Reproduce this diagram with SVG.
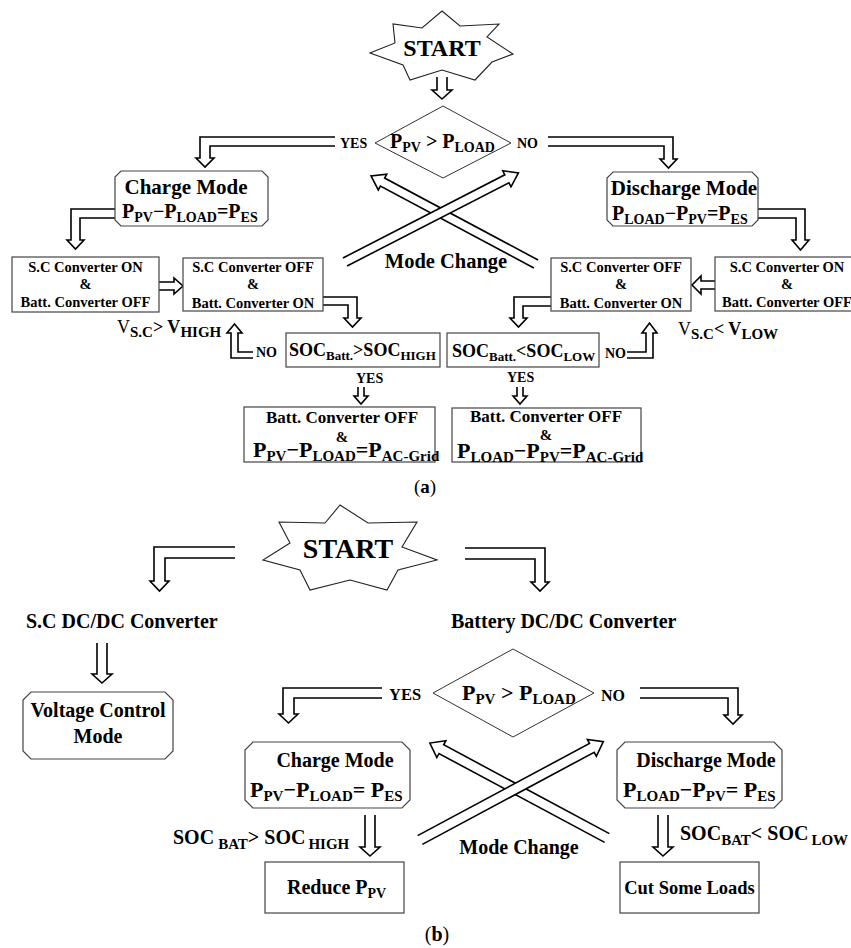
<svg xmlns="http://www.w3.org/2000/svg" width="851" height="948" viewBox="0 0 851 948">
<style>
.t{font-family:"Liberation Serif","Times New Roman",serif;font-weight:bold;fill:#000}
.r{font-weight:normal}
.bx{fill:#fff;stroke:#444;stroke-width:1.2}
.dm{fill:#fff;stroke:#333;stroke-width:1}
.ar{fill:#fff;stroke:#000;stroke-width:1.6;stroke-linejoin:miter}
.st{fill:#fff;stroke:#222;stroke-width:1.1}
</style>
<rect width="851" height="948" fill="#fff"/>

<!-- ===== (a) ===== -->
<g id="connectors-a">
  <path class="ar" d="M437,77 V90 H432 L442,99 L452,90 H447 V77"/>
  <path class="ar" d="M335,137 H200 V158 H196 L205,167 L214,158 H210 V146 H335"/>
  <path class="ar" d="M548,137 H673 V159 H677 L668.5,168 L660,159 H664 V146 H548"/>
  <path class="ar" d="M115,209 H71 V240 H67 L75.5,249 L84,240 H80 V218 H115"/>
  <path class="ar" d="M159,282 H174 V278 L183,286 L174,294 V290 H159"/>
  <path class="ar" d="M323,297 H357 V318 H361 L352.5,327 L344,318 H348 V305 H323"/>
  <path class="ar" d="M253,352 H238 V333 H242 L234.5,324 L227,333 H231 V358 H253"/>
  <path class="ar" d="M358,387 V396 H354 L361,404 L368,396 H364 V387"/>
  <path class="ar" d="M758,209 H805 V240 H809 L800.5,250 L792,240 H796 V218 H758"/>
  <path class="ar" d="M715,281 H701 V276 L692,285 L701,294 V289 H715"/>
  <path class="ar" d="M551,297 H514 V318 H510 L518.5,327 L527,318 H523 V306 H551"/>
  <path class="ar" d="M627,352 H646 V333 H642 L649.5,323 L657,333 H653 V358 H627"/>
  <path class="ar" d="M517,387 V396 H513 L520,404 L527,396 H523 V387"/>
  <path class="ar" transform="translate(536,264) rotate(-151.9)" d="M0,-4.5 H174 V-9 L187,0 L174,9 V4.5 H0"/>
  <path class="ar" transform="translate(345,262) rotate(-27.2)" d="M0,-4.5 H182 V-9 L195,0 L182,9 V4.5 H0"/>
</g>

<g id="start-a">
  <polygon class="st" points="442,11 460,26 499,24 487,37 513,54 492,62 475,80 442,70 410,80 403,65 370,53 395,43 393,24 422,28"/>
  <text class="t" x="442" y="56" font-size="24" text-anchor="middle">START</text>
</g>

<g id="decision-a">
  <polygon class="dm" points="375,143 443,106 511,143 443,178"/>
  <text class="t" x="390" y="148" font-size="20">P<tspan font-size="14" dy="4">PV</tspan><tspan dy="-4"> &gt; P</tspan><tspan font-size="14" dy="4">LOAD</tspan></text>
  <text class="t" x="340" y="148" font-size="14">YES</text>
  <text class="t" x="517" y="148" font-size="14">NO</text>
</g>

<g id="charge-a">
  <polygon class="bx" points="121,171 262,171 268,177 268,220 262,226 121,226 115,220 115,177"/>
  <text class="t" x="186" y="194" font-size="21" text-anchor="middle">Charge Mode</text>
  <text class="t" x="122" y="218" font-size="20">P<tspan font-size="14" dy="4">PV</tspan><tspan dy="-4">−P</tspan><tspan font-size="14" dy="4">LOAD</tspan><tspan dy="-4">=P</tspan><tspan font-size="14" dy="4">ES</tspan></text>
</g>

<g id="discharge-a">
  <polygon class="bx" points="613,172 752,172 758,178 758,220 752,226 613,226 607,220 607,178"/>
  <text class="t" x="684" y="195" font-size="21" text-anchor="middle">Discharge Mode</text>
  <text class="t" x="612" y="220" font-size="20">P<tspan font-size="14" dy="4">LOAD</tspan><tspan dy="-4">−P</tspan><tspan font-size="14" dy="4">PV</tspan><tspan dy="-4">=P</tspan><tspan font-size="14" dy="4">ES</tspan></text>
</g>

<g id="sc-on-left">
  <rect class="bx" x="12" y="257" width="147" height="55"/>
  <text class="t" font-size="14.5" text-anchor="middle"><tspan x="85.5" y="272">S.C Converter ON</tspan><tspan x="85.5" y="289">&amp;</tspan><tspan x="85.5" y="307">Batt. Converter OFF</tspan></text>
</g>

<g id="sc-off-left">
  <rect class="bx" x="183" y="258" width="140" height="53"/>
  <text class="t" font-size="14.5" text-anchor="middle"><tspan x="253" y="272">S.C Converter OFF</tspan><tspan x="253" y="289">&amp;</tspan><tspan x="253" y="308">Batt. Converter ON</tspan></text>
</g>

<g id="vsc-high">
  <text class="t" x="117" y="333" font-size="18"><tspan class="r">V</tspan><tspan font-size="15" dy="4">S.C</tspan><tspan dy="-4">&gt; V</tspan><tspan font-size="15" dy="4">HIGH</tspan></text>
</g>

<g id="soc-high">
  <rect class="bx" x="286" y="333" width="154" height="34"/>
  <text class="t" x="289" y="356" font-size="18">SOC<tspan font-size="13" dy="4">Batt.</tspan><tspan dy="-4">&gt;SOC</tspan><tspan font-size="13" dy="4">HIGH</tspan></text>
  <text class="t" x="256" y="357" font-size="14">NO</text>
  <text class="t" x="356" y="383" font-size="14">YES</text>
</g>

<g id="batt-off-left">
  <rect class="bx" x="244" y="407" width="191" height="55"/>
  <text class="t" x="342" y="423" font-size="17" text-anchor="middle">Batt. Converter OFF</text>
  <text class="t" x="342" y="442" font-size="15" text-anchor="middle">&amp;</text>
  <text class="t" x="253" y="457" font-size="22">P<tspan font-size="15" dy="4">PV</tspan><tspan dy="-4">−P</tspan><tspan font-size="15" dy="4">LOAD</tspan><tspan dy="-4">=P</tspan><tspan font-size="15" dy="4">AC-Grid</tspan></text>
</g>

<g id="sc-off-right">
  <rect class="bx" x="551" y="258" width="140" height="53"/>
  <text class="t" font-size="14.5" text-anchor="middle"><tspan x="621" y="272">S.C Converter OFF</tspan><tspan x="621" y="289">&amp;</tspan><tspan x="621" y="308">Batt. Converter ON</tspan></text>
</g>

<g id="sc-on-right">
  <rect class="bx" x="715" y="257" width="150" height="54"/>
  <text class="t" font-size="14.5" text-anchor="middle"><tspan x="787" y="272">S.C Converter ON</tspan><tspan x="787" y="289">&amp;</tspan><tspan x="787" y="307">Batt. Converter OFF</tspan></text>
</g>

<g id="vsc-low">
  <text class="t" x="678" y="335" font-size="18"><tspan class="r">V</tspan><tspan font-size="15" dy="4">S.C</tspan><tspan dy="-4">&lt; V</tspan><tspan font-size="15" dy="4">LOW</tspan></text>
</g>

<g id="soc-low">
  <rect class="bx" x="447" y="333" width="152" height="34"/>
  <text class="t" x="452" y="357" font-size="18">SOC<tspan font-size="13" dy="4">Batt.</tspan><tspan dy="-4">&lt;SOC</tspan><tspan font-size="13" dy="4">LOW</tspan></text>
  <text class="t" x="605" y="358" font-size="14">NO</text>
  <text class="t" x="507" y="382" font-size="14">YES</text>
</g>

<g id="batt-off-right">
  <rect class="bx" x="452" y="408" width="189" height="54"/>
  <text class="t" x="546" y="422" font-size="17" text-anchor="middle">Batt. Converter OFF</text>
  <text class="t" x="546" y="440" font-size="15" text-anchor="middle">&amp;</text>
  <text class="t" x="457" y="458" font-size="22">P<tspan font-size="15" dy="4">LOAD</tspan><tspan dy="-4">−P</tspan><tspan font-size="15" dy="4">PV</tspan><tspan dy="-4">=P</tspan><tspan font-size="15" dy="4">AC-Grid</tspan></text>
</g>

<g id="mode-change-a">
  <text class="t" x="446" y="268" font-size="20.5" text-anchor="middle">Mode Change</text>
</g>

<text class="t r" x="425" y="493" font-size="19" text-anchor="middle">(<tspan font-weight="bold">a</tspan>)</text>

<!-- ===== (b) ===== -->
<g id="connectors-b">
  <path class="ar" d="M235,547 H154 V581 H150 L159.5,591 L169,581 H165 V558 H235"/>
  <path class="ar" d="M465,548 H545 V582 H549 L540,591 L531,582 H535 V559 H465"/>
  <path class="ar" d="M97,643 V674 H92 L102,683 L112,674 H107 V643"/>
  <path class="ar" d="M382,688 H283 V714 H279 L288.5,723 L298,714 H294 V698 H382"/>
  <path class="ar" d="M640,688 H738 V715 H742 L733,724 L724,715 H728 V698 H640"/>
  <path class="ar" d="M365,815 V847 H360 L370,856 L380,847 H375 V815"/>
  <path class="ar" d="M658,815 V847 H653 L663,856 L673,847 H668 V815"/>
  <path class="ar" transform="translate(607,838) rotate(-151.8)" d="M0,-5 H188 V-9.5 L201,0 L188,9.5 V5 H0"/>
  <path class="ar" transform="translate(420,840) rotate(-28.2)" d="M0,-5 H195 V-9.5 L208,0 L195,9.5 V5 H0"/>
</g>

<g id="start-b">
  <polygon class="st" points="340,505 368,523 417,522 402,547 437,560 398,570 387,590 350,580 310,590 300,570 263,560 290,543 279,522 325,523"/>
  <text class="t" x="348" y="558" font-size="28" text-anchor="middle">START</text>
</g>

<g id="sc-converter-b">
  <text class="t" x="26" y="628" font-size="20">S.C DC/DC Converter</text>
</g>

<g id="battery-converter-b">
  <text class="t" x="451" y="628" font-size="20">Battery DC/DC Converter</text>
</g>

<g id="voltage-control-b">
  <polygon class="bx" points="31,692 165,692 173,700 173,751 165,759 31,759 23,751 23,700"/>
  <text class="t" font-size="20" text-anchor="middle"><tspan x="98" y="717">Voltage Control</tspan><tspan x="98" y="743">Mode</tspan></text>
</g>

<g id="decision-b">
  <polygon class="dm" points="433,693 513,649 594,693 513,737"/>
  <text class="t" x="462" y="700" font-size="22">P<tspan font-size="15" dy="4">PV</tspan><tspan dy="-4"> &gt; P</tspan><tspan font-size="15" dy="4">LOAD</tspan></text>
  <text class="t" x="389" y="700" font-size="16.5">YES</text>
  <text class="t" x="601" y="701" font-size="16">NO</text>
</g>

<g id="charge-b">
  <polygon class="bx" points="253,742 402,742 410,750 410,800 402,808 253,808 245,800 245,750"/>
  <text class="t" x="335" y="767" font-size="20" text-anchor="middle">Charge Mode</text>
  <text class="t" x="250" y="797" font-size="22">P<tspan font-size="15" dy="4">PV</tspan><tspan dy="-4">−P</tspan><tspan font-size="15" dy="4">LOAD</tspan><tspan dy="-4">= P</tspan><tspan font-size="15" dy="4">ES</tspan></text>
</g>

<g id="discharge-b">
  <polygon class="bx" points="625,742 774,742 782,750 782,800 774,808 625,808 617,800 617,750"/>
  <text class="t" x="706" y="767" font-size="20" text-anchor="middle">Discharge Mode</text>
  <text class="t" x="623" y="797" font-size="22">P<tspan font-size="15" dy="4">LOAD</tspan><tspan dy="-4">−P</tspan><tspan font-size="15" dy="4">PV</tspan><tspan dy="-4">= P</tspan><tspan font-size="15" dy="4">ES</tspan></text>
</g>

<g id="soc-high-b">
  <text class="t" x="173" y="844" font-size="20">SOC<tspan font-size="15" dy="5" dx="4">BAT</tspan><tspan dy="-5">&gt; SOC</tspan><tspan font-size="15" dy="5" dx="3">HIGH</tspan></text>
</g>

<g id="soc-low-b">
  <text class="t" x="680" y="840" font-size="20">SOC<tspan font-size="15" dy="5">BAT</tspan><tspan dy="-5">&lt; SOC</tspan><tspan font-size="15" dy="5" dx="3">LOW</tspan></text>
</g>

<g id="reduce-b">
  <rect class="bx" x="265" y="862" width="139" height="51"/>
  <text class="t" x="287" y="894" font-size="20">Reduce P<tspan font-size="14" dy="4">PV</tspan></text>
</g>

<g id="cut-loads-b">
  <rect class="bx" x="620" y="862" width="139" height="51"/>
  <text class="t" x="689.5" y="894" font-size="18.5" text-anchor="middle">Cut Some Loads</text>
</g>

<g id="mode-change-b">
  <text class="t" x="519" y="854" font-size="20" text-anchor="middle">Mode Change</text>
</g>

<text class="t r" x="437" y="941" font-size="20" text-anchor="middle">(<tspan font-weight="bold">b</tspan>)</text>
</svg>
